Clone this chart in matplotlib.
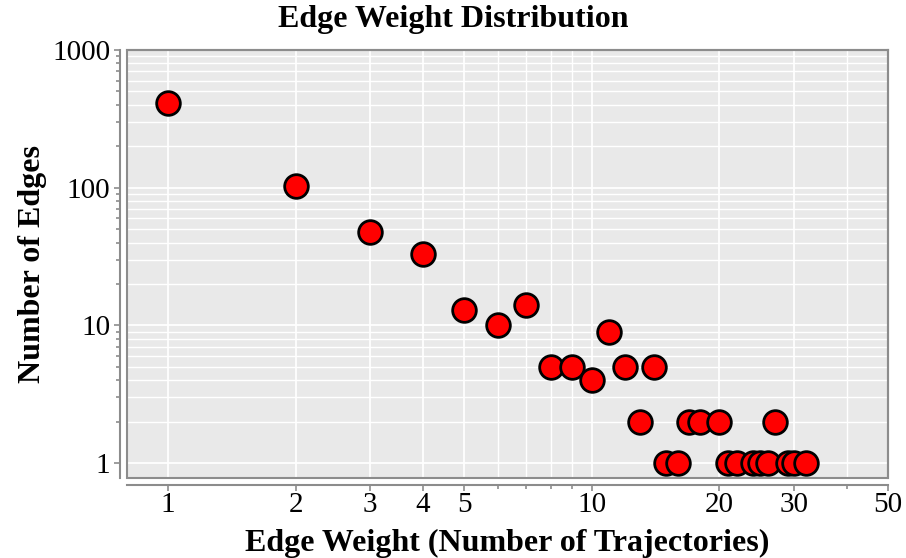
import matplotlib
matplotlib.use("Agg")
import matplotlib.pyplot as plt
from matplotlib.patches import Rectangle
from matplotlib.ticker import FixedLocator, FixedFormatter, NullFormatter

plt.rcParams['font.family'] = ['Liberation Serif', 'DejaVu Serif']

# edge weight -> number of edges
peso = [1, 2, 3, 4, 5, 6, 7, 8, 9, 10, 11, 12, 13, 14, 15, 16, 17, 18,
        20, 21, 22, 24, 25, 26, 27, 29, 30, 32]
n_aristas = [410, 103, 48, 33, 13, 10, 14, 5, 5, 4, 9, 5, 2, 5, 1, 1, 2, 2,
             2, 1, 1, 1, 1, 1, 2, 1, 1, 1]

xticks = [1, 2, 3, 4, 5, 10, 20, 30, 50]
xticks_menores = [6, 7, 8, 9, 40]
yticks = [1, 10, 100, 1000]
ytick_labels = ["1", "10", "100", "1000"]

gris = "#8c8c8c"

fig = plt.figure(figsize=(9.06, 5.58), dpi=100)
ax = fig.add_axes([127 / 906, 1 - 478 / 558, 761 / 906, 428 / 558])
ax.set_facecolor("#e9e9e9")

ax.scatter(peso, n_aristas, s=290, c="#ff0000", edgecolors="black",
           linewidths=2, zorder=3)

ax.set_xscale("log")
ax.set_yscale("log")
ax.set_xlim(0.8, 50)
ax.set_ylim(0.78, 1000)

ax.xaxis.set_major_locator(FixedLocator(xticks))
ax.xaxis.set_major_formatter(FixedFormatter([str(t) for t in xticks]))
ax.xaxis.set_minor_locator(FixedLocator(xticks_menores))
ax.xaxis.set_minor_formatter(NullFormatter())
ax.yaxis.set_major_locator(FixedLocator(yticks))
ax.yaxis.set_major_formatter(FixedFormatter(ytick_labels))
menores_y = [m * 10 ** e for e in range(0, 3) for m in range(2, 10)]
ax.yaxis.set_minor_locator(FixedLocator(menores_y))
ax.yaxis.set_minor_formatter(NullFormatter())

ax.grid(True, which="major", color="white", linewidth=1.3)
ax.grid(True, which="minor", color="white", linewidth=1.0)
ax.set_axisbelow(True)

for lado in ["left", "bottom"]:
    ax.spines[lado].set_position(("outward", 5))
    ax.spines[lado].set_color(gris)
    ax.spines[lado].set_linewidth(1.5)
for lado in ["top", "right"]:
    ax.spines[lado].set_color(gris)
    ax.spines[lado].set_linewidth(1.5)
ax.add_patch(Rectangle((0, 0), 1, 1, transform=ax.transAxes, fill=False,
                       edgecolor=gris, linewidth=1.5, zorder=4, clip_on=False))

ax.tick_params(which="both", color=gris, width=1.2, labelsize=21,
               labelcolor="black")
ax.tick_params(which="major", length=4)
ax.tick_params(which="minor", length=3)
ax.tick_params(axis="x", pad=1)
ax.tick_params(axis="y", pad=3)

ax.set_xlabel("Edge Weight (Number of Trajectories)", fontsize=23,
              fontweight="bold", labelpad=8)
ax.set_ylabel("Number of Edges", fontsize=23, fontweight="bold", labelpad=4)
fig.text(0.5, 1 - 19 / 558, "Edge Weight Distribution", fontsize=23,
         fontweight="bold", ha="center", va="center")

fig.savefig("out.png", dpi=100)
